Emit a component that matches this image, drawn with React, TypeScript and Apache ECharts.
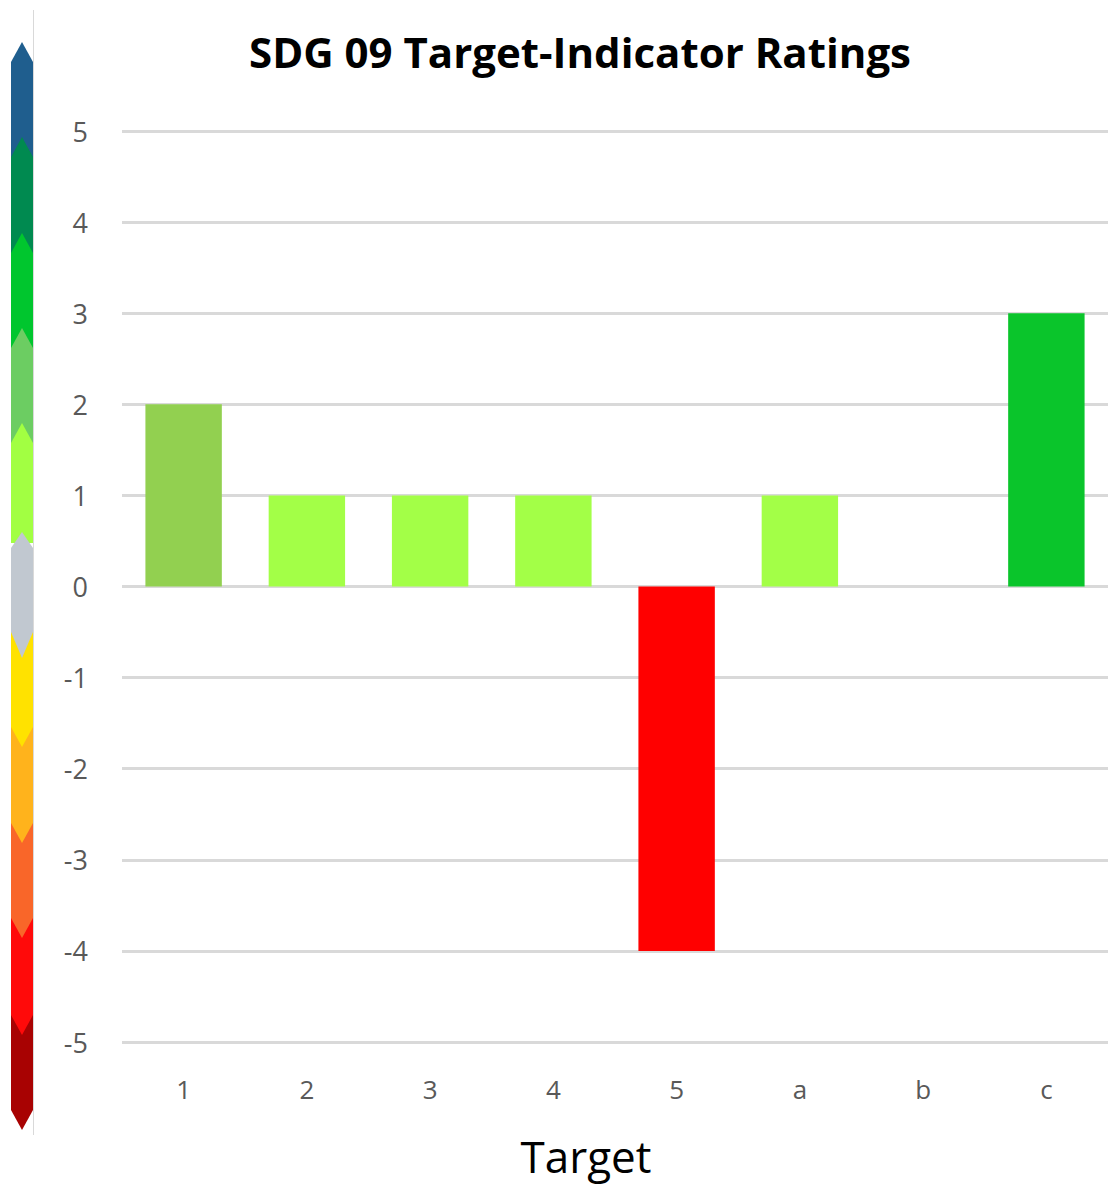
import React, { useEffect, useRef } from "react";
import * as echarts from "echarts";

const categories = ["1", "2", "3", "4", "5", "a", "b", "c"];
const ratings = [2, 1, 1, 1, -4, 1, 0, 3];
const barColors = ["#92d050", "#a3ff47", "#a3ff47", "#a3ff47", "#ff0000", "#a3ff47", "#a3ff47", "#0ac52b"];
const yTicks = [-5, -4, -3, -2, -1, 0, 1, 2, 3, 4, 5];

// colour scale strip (top to bottom)
const upColors = ["#1f5e8e", "#008a50", "#00c62e", "#6ccd62", "#a2ff42"];
const upTips = [42, 137, 233, 328, 423];
const downColors = ["#ffe200", "#ffb31c", "#f96629", "#ff0a0a", "#a80202"];
const downTips = [747, 843, 938, 1035, 1130];
const grayColor = "#c1c8d0";

export default function App() {
  const ref = useRef<HTMLDivElement>(null);
  useEffect(() => {
    const chart = echarts.init(ref.current!, undefined, { renderer: "svg" });
    const x0 = 11, x1 = 33, xm = 22, d = 20;
    const graphics: any[] = [];
    graphics.push({
      type: "line",
      shape: { x1: 33.5, y1: 10, x2: 33.5, y2: 1135 },
      style: { stroke: "#d9d9d9", lineWidth: 1 },
      z: 1,
    });
    upColors.forEach((c, i) => {
      const t = upTips[i];
      graphics.push({
        type: "polygon",
        shape: { points: [[x0, t + d], [xm, t], [x1, t + d], [x1, t + 120], [x0, t + 120]] },
        style: { fill: c },
        z: 2,
      });
    });
    for (let i = downColors.length - 1; i >= 0; i--) {
      const t = downTips[i];
      graphics.push({
        type: "polygon",
        shape: { points: [[x0, t - 120], [x1, t - 120], [x1, t - d], [xm, t], [x0, t - d]] },
        style: { fill: downColors[i] },
        z: 2,
      });
    }
    graphics.push({
      type: "polygon",
      shape: { points: [[x0, 532 + 16], [xm, 532], [x1, 532 + 16], [x1, 658 - 26], [xm, 658], [x0, 658 - 26]] },
      style: { fill: grayColor },
      z: 3,
    });

    chart.setOption({
      animation: false,
      title: {
        text: "SDG 09 Target-Indicator Ratings",
        left: 575,
        textAlign: "center",
        top: 25,
        textStyle: { fontFamily: "Open Sans", fontWeight: "bold", fontSize: 42, color: "#000" },
      },
      graphic: graphics,
      grid: { left: 122, right: 5, top: 131, bottom: 160 },
      xAxis: {
        type: "category",
        data: categories,
        name: "Target",
        nameLocation: "middle",
        nameGap: 92,
        nameTextStyle: { fontFamily: "Open Sans", fontSize: 44, color: "#000", padding: [0, 58, 0, 0] },
        axisLine: { show: false },
        axisTick: { show: false },
        axisLabel: { fontFamily: "Open Sans", fontSize: 26, color: "#595959", margin: 34 },
      },
      yAxis: {
        type: "value",
        min: yTicks[0],
        max: yTicks[yTicks.length - 1],
        interval: 1,
        axisLine: { show: false },
        axisTick: { show: false },
        axisLabel: { fontFamily: "Open Sans", fontSize: 27, color: "#595959", margin: 34 },
        splitLine: { lineStyle: { color: "#d9d9d9", width: 3 } },
      },
      series: [
        {
          type: "bar",
          data: ratings.map((v, i) => ({ value: v, itemStyle: { color: barColors[i] } })),
          barWidth: "62%",
        },
      ],
    });
    return () => chart.dispose();
  }, []);
  return (
    <div
      ref={ref}
      style={{ position: "absolute", left: 0, top: 0, width: 1113, height: 1202, background: "#fff" }}
    />
  );
}
